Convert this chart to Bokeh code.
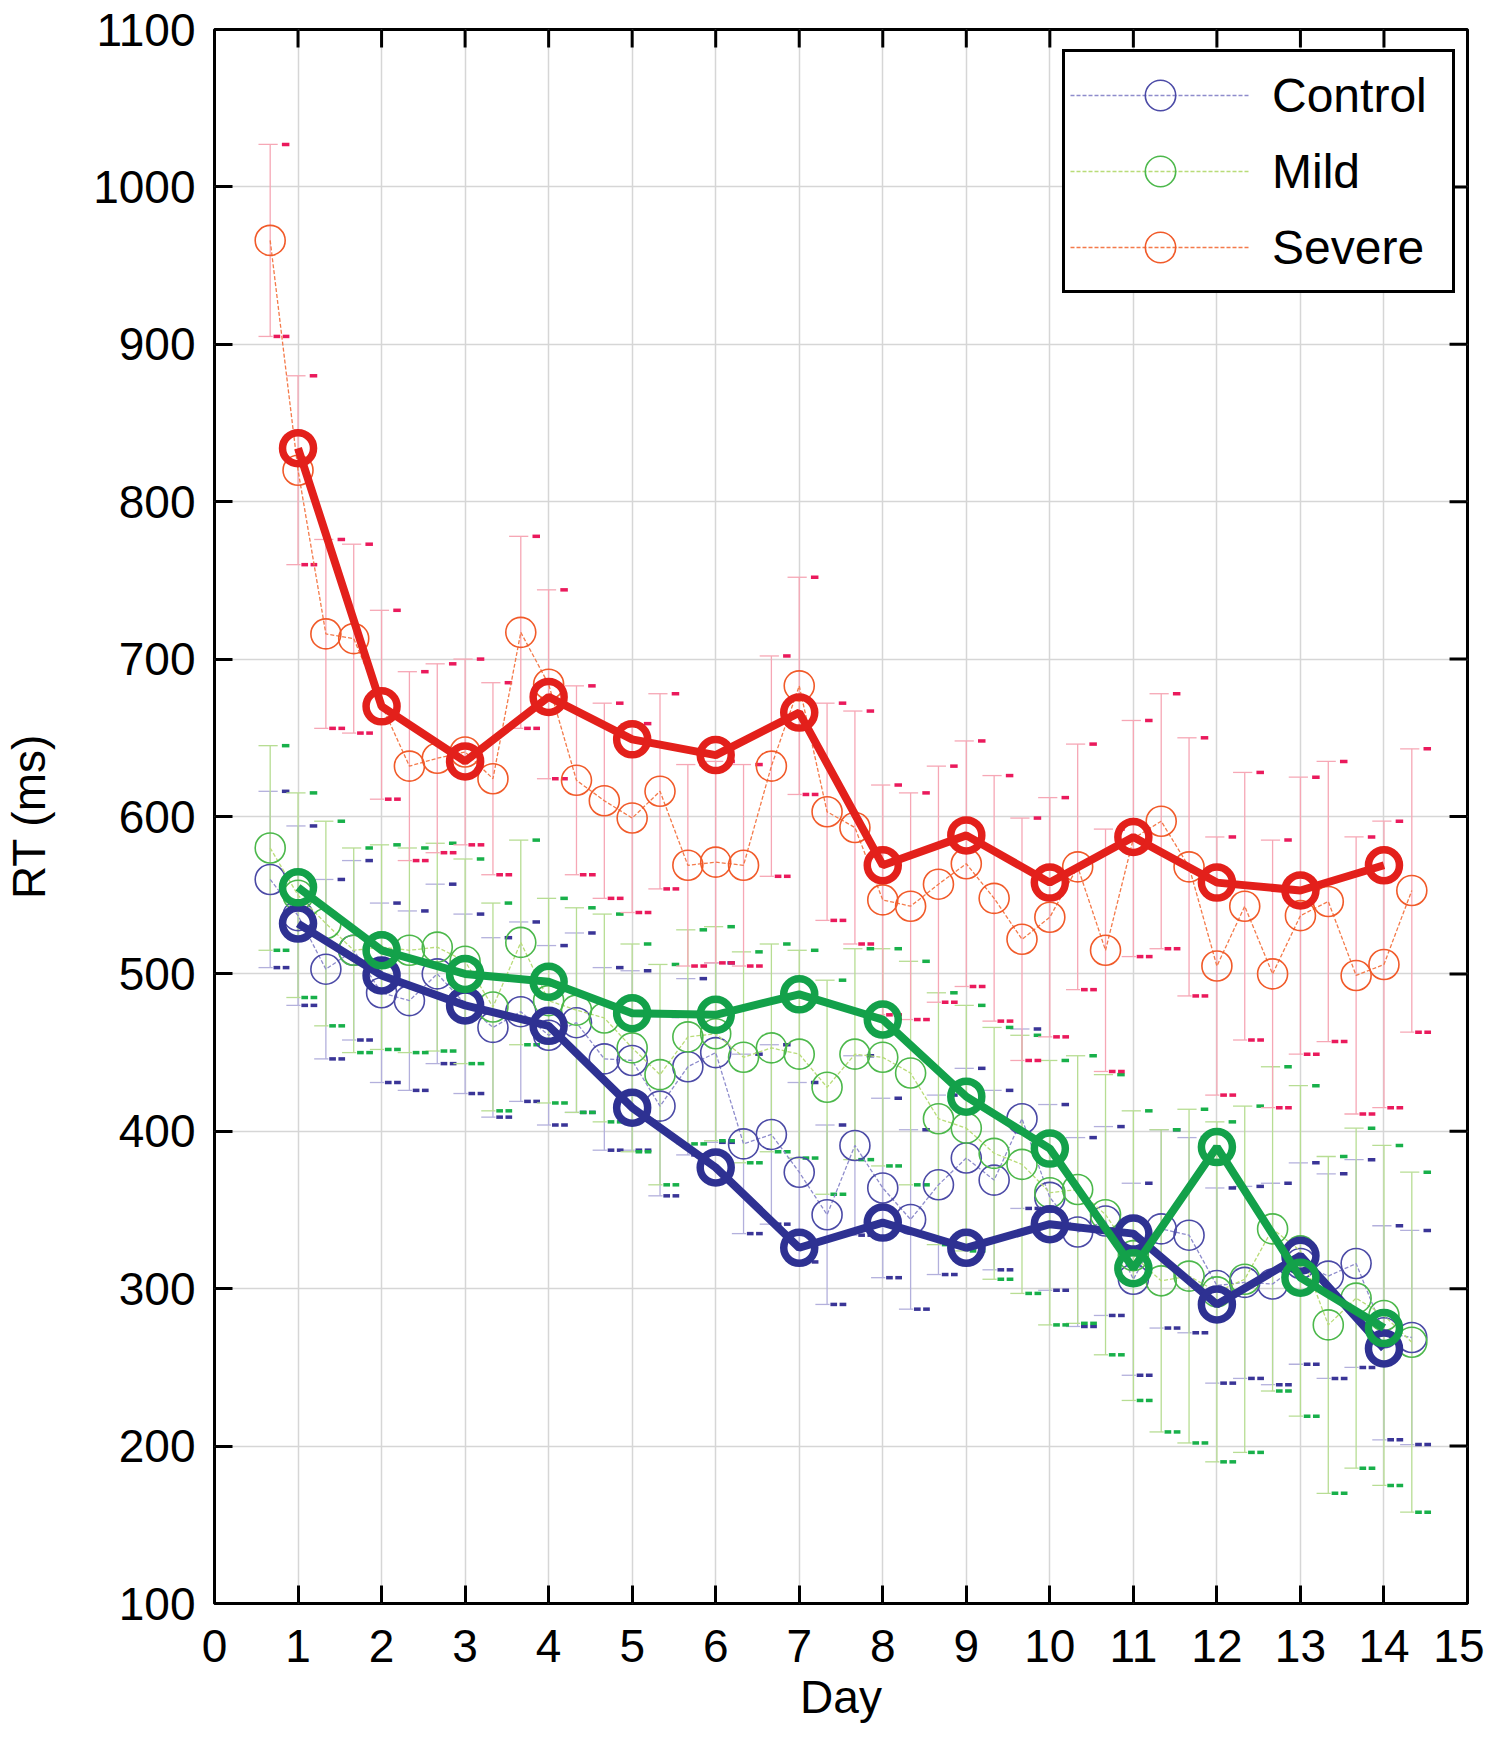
from bokeh.plotting import figure
from bokeh.models import (FixedTicker, Legend, LegendItem,
                          ColumnDataSource, Range1d)
from bokeh.embed import file_html
from bokeh.resources import INLINE

# ---------------- data ----------------
days = list(range(1, 15))
session_offsets = [-1/3, 0.0, 1/3]          # three sessions per day
x_ticks = list(range(0, 16))
y_ticks = list(range(100, 1101, 100))
x_tick_labels = [str(t) for t in x_ticks]
y_tick_labels = [str(t) for t in y_ticks]

# daily means (thick lines)
control_daily = [532, 499, 480, 467, 415, 377, 326, 342, 326, 341, 335, 290, 321, 262]
mild_daily    = [555, 515, 500, 495, 475, 474, 487, 471, 422, 389, 313, 390, 307, 275]
severe_daily  = [834, 670, 635, 676, 649, 639, 666, 569, 588, 558, 587, 558, 553, 569]

# per-session means (thin lines), 3 sessions per day
control_sess = [560, 537, 503, 515, 488, 483, 500, 481, 466, 476, 461, 469, 446, 445,
                416, 441, 450, 392, 398, 374, 347, 391, 364, 344, 366, 383, 369, 408,
                358, 336, 343, 306, 338, 334, 302, 304, 303, 316, 308, 316, 272, 269]
mild_sess    = [580, 550, 532, 515, 517, 515, 517, 508, 479, 520, 483, 477, 472, 453,
                436, 460, 462, 447, 453, 449, 428, 449, 447, 437, 408, 402, 386, 379,
                361, 363, 347, 321, 305, 308, 298, 306, 338, 324, 277, 294, 283, 266]
severe_sess  = [966, 820, 716, 713, 671, 632, 637, 641, 624, 717, 684, 623, 610, 599,
                616, 569, 571, 569, 632, 683, 603, 593, 547, 543, 557, 570, 548, 522,
                536, 568, 515, 586, 597, 568, 505, 543, 500, 537, 546, 499, 506, 553]

# error half-widths per session
control_err = [56, 57, 57, 57, 57, 57, 57, 57, 57, 57, 57, 57, 58, 57,
               57, 56, 57, 57, 57, 57, 57, 57, 57, 57, 57, 57, 57, 57,
               59, 60, 60, 61, 63, 62, 62, 61, 64, 64, 65, 66, 68, 68]
mild_err    = [65, 65, 65, 65, 65, 65, 66, 65, 66, 65, 65, 65, 66, 66,
               70, 68, 68, 67, 66, 66, 68, 67, 69, 71, 80, 78, 80, 82,
               84, 85, 89, 92, 96, 106, 108, 110, 103, 105, 107, 108, 108, 108]
severe_err  = [61, 60, 60, 60, 60, 60, 60, 59, 61, 61, 60, 60, 62, 60,
               62, 64, 64, 64, 70, 69, 69, 74, 73, 72, 75, 78, 78, 77,
               76, 78, 77, 75, 81, 82, 82, 85, 85, 88, 89, 88, 91, 90]

groups = ["Control", "Mild", "Severe"]

session_x = [d + o for d in days for o in session_offsets]

# ---------------- layout ----------------
W, H = 1484, 1747
BL, BT, BR, BB = 212, 29, 17, 144
X0, X1, Y0, Y1 = 0, 15, 100, 1100
frame_w = W - BL - BR
frame_h = H - BT - BB
px_per_x = frame_w / (X1 - X0)
px_per_y = frame_h / (Y1 - Y0)
TICK_PX = 18

FONT = "Liberation Sans"
styles = {
    "Control": dict(heavy="#2e3192", circ="#4b4aa6", line="#8e8ccc",
                    err="#b3b0dc", dash="#3a3597"),
    "Mild":    dict(heavy="#13a14a", circ="#4cb84b", line="#b9dc78",
                    err="#b7dd93", dash="#18b04a"),
    "Severe":  dict(heavy="#e3201b", circ="#f15a29", line="#f47a4a",
                    err="#f6a7b5", dash="#ea1a5c"),
}
series = {
    "Control": (control_daily, control_sess, control_err),
    "Mild": (mild_daily, mild_sess, mild_err),
    "Severe": (severe_daily, severe_sess, severe_err),
}

p = figure(width=W, height=H,
           x_range=Range1d(X0, X1), y_range=Range1d(Y0, Y1),
           output_backend="svg", toolbar_location=None,
           min_border_left=BL, min_border_top=BT,
           min_border_right=BR, min_border_bottom=BB)

p.background_fill_color = "white"
p.border_fill_color = "white"
p.outline_line_color = "black"
p.outline_line_width = 3

# grids
p.xgrid.ticker = FixedTicker(ticks=x_ticks)
p.ygrid.ticker = FixedTicker(ticks=y_ticks)
for g in (p.xgrid, p.ygrid):
    g.grid_line_color = "#d6d6d6"
    g.grid_line_width = 1.5

# axes (bottom / left with labels)
def style_axis(ax, ticks, labels, standoff):
    ax.ticker = FixedTicker(ticks=ticks)
    ax.major_label_overrides = {t: l for t, l in zip(ticks, labels)}
    ax.major_tick_in = TICK_PX
    ax.major_tick_out = 0
    ax.major_tick_line_width = 3
    ax.major_tick_line_color = "black"
    ax.minor_tick_line_color = None
    ax.axis_line_color = None
    ax.major_label_text_font = FONT
    ax.major_label_text_font_size = "46px"
    ax.major_label_text_color = "black"
    ax.major_label_standoff = standoff
    ax.axis_label_text_font = FONT
    ax.axis_label_text_font_size = "46px"
    ax.axis_label_text_font_style = "normal"
    ax.axis_label_text_color = "black"

style_axis(p.xaxis[0], x_ticks, x_tick_labels, 26)
style_axis(p.yaxis[0], y_ticks, y_tick_labels, 19)
p.xaxis.axis_label = "Day"
p.xaxis.axis_label_standoff = 6
p.yaxis.axis_label = "RT (ms)"
p.yaxis.axis_label_standoff = 35

# inward ticks on the top and right edges of the box
top_ticks = x_ticks[1:-1]
right_ticks = y_ticks[1:-1]
p.segment(x0=top_ticks, y0=[Y1] * len(top_ticks),
          x1=top_ticks, y1=[Y1 - TICK_PX / px_per_y] * len(top_ticks),
          line_color="black", line_width=3)
p.segment(x0=[X1] * len(right_ticks), y0=right_ticks,
          x1=[X1 - TICK_PX / px_per_x] * len(right_ticks), y1=right_ticks,
          line_color="black", line_width=3)

# ---------------- session error bars ----------------
for g in groups:
    daily, sess, err = series[g]
    st = styles[g]
    lo = [m - e for m, e in zip(sess, err)]
    hi = [m + e for m, e in zip(sess, err)]
    p.segment(x0=session_x, y0=lo, x1=session_x, y1=hi,
              line_color=st["err"], line_width=1.3)
    p.segment(x0=[x - 0.14 for x in session_x], y0=hi,
              x1=[x + 0.09 for x in session_x], y1=hi,
              line_color=st["err"], line_width=1.3)
    p.segment(x0=[x - 0.14 for x in session_x], y0=lo,
              x1=[x + 0.03 for x in session_x], y1=lo,
              line_color=st["err"], line_width=1.3)
    p.segment(x0=[x + 0.14 for x in session_x], y0=hi,
              x1=[x + 0.23 for x in session_x], y1=hi,
              line_color=st["dash"], line_width=3.5)
    p.segment(x0=[x + 0.04 for x in session_x], y0=lo,
              x1=[x + 0.12 for x in session_x], y1=lo,
              line_color=st["dash"], line_width=3.5)
    p.segment(x0=[x + 0.15 for x in session_x], y0=lo,
              x1=[x + 0.23 for x in session_x], y1=lo,
              line_color=st["dash"], line_width=3.5)

# ---------------- session lines ----------------
legend_refs = {}
for g in groups:
    daily, sess, err = series[g]
    st = styles[g]
    src = ColumnDataSource(dict(x=session_x, y=sess))
    lr = p.line("x", "y", source=src, line_color=st["line"], line_width=1.3,
                line_dash="4 2")
    cr = p.scatter("x", "y", source=src, marker="circle", size=30,
                   fill_color=None, line_color=st["circ"], line_width=1.6)
    legend_refs[g] = [lr, cr]

# ---------------- daily (thick) lines ----------------
for g in groups:
    daily, sess, err = series[g]
    st = styles[g]
    src = ColumnDataSource(dict(x=days, y=daily))
    p.line("x", "y", source=src, line_color=st["heavy"], line_width=8)
    p.scatter("x", "y", source=src, marker="circle", size=31,
              fill_color=None, line_color=st["heavy"], line_width=7.5)

# ---------------- legend ----------------
legend = Legend(items=[LegendItem(label=g, renderers=legend_refs[g]) for g in groups],
                location=(848, 1310), orientation="vertical",
                glyph_width=180, glyph_height=76, spacing=0, padding=5,
                label_standoff=22, label_width=175, label_height=60,
                label_text_font=FONT, label_text_font_size="48px",
                label_text_color="black",
                border_line_color="black", border_line_width=3,
                border_line_alpha=1.0,
                background_fill_color="white", background_fill_alpha=1.0,
                margin=0)
p.add_layout(legend)

open("out.html", "w").write(file_html(p, INLINE))
